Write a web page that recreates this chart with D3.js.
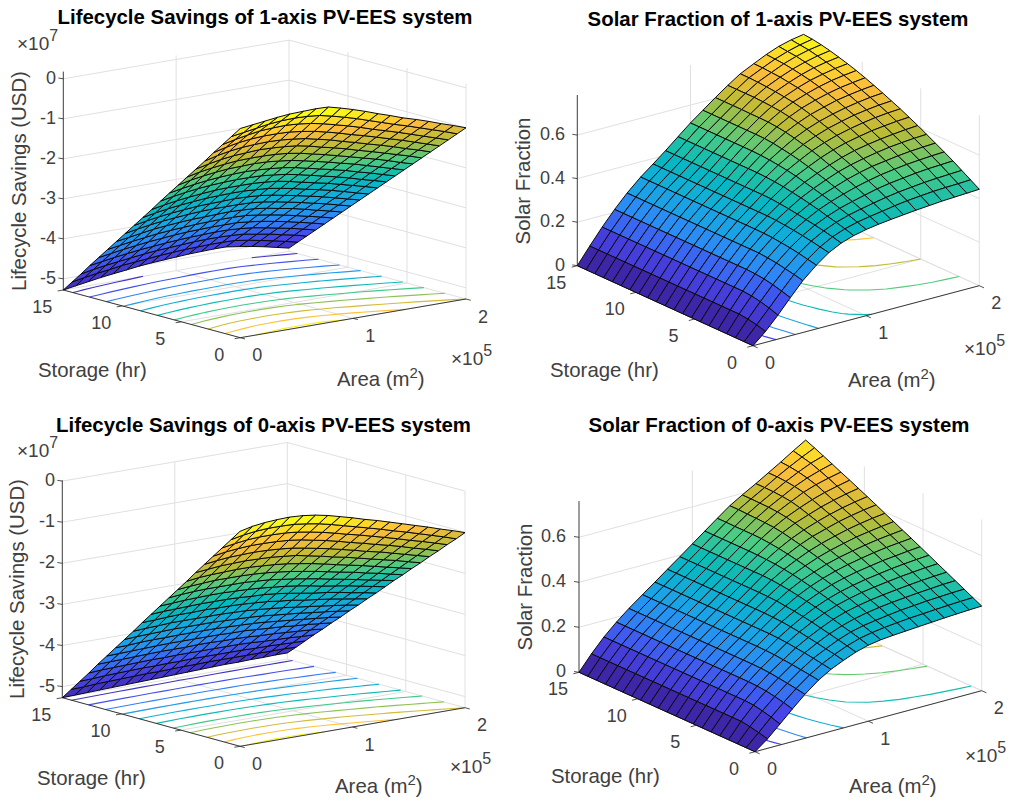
<!DOCTYPE html>
<html>
<head>
<meta charset="utf-8">
<script src="https://cdn.jsdelivr.net/npm/d3@7"></script>
<style>
html, body { margin: 0; padding: 0; background: #fff; }
svg { display: block; }
text { font-family: "Liberation Sans", Arial, sans-serif; }
</style>
</head>
<body>
<div id="chart"></div>
<script>
// area in 1e5 m2, storage in hr
var storage = [0,.75,1.5,2.25,3,3.75,4.5,5.25,6,6.75,7.5,8.25,9,9.75,10.5,11.25,12,12.75,13.5,14.25,15];
var area = [0,.11,.22,.33,.44,.56,.67,.78,.89,1,1.11,1.22,1.33,1.44,1.56,1.67,1.78,1.89,2];

var areaTicks = [0,1,2];
var storageTicks = [0,5,10,15];
var lcsTicks = [0,-1,-2,-3,-4,-5];
var sfTicks = [0,.2,.4,.6];
var lcsLevels = [-5,-4.5,-4,-3.5,-3,-2.5,-2,-1.5,-1,-.5,0];
var sfLevels = [.1,.2,.3,.4,.5,.6,.7];

// lifecycle savings (1e7 USD), one row per storage value
var lcs1Axis = [
[-.05,-.01,.03,.07,.10,.11,.12,.11,.03,-.06,-.16,-.27,-.37,-.48,-.58,-.68,-.79,-.89,-1.00],
[-.31,-.26,-.21,-.16,-.13,-.12,-.13,-.16,-.23,-.31,-.40,-.50,-.60,-.70,-.80,-.90,-1.00,-1.10,-1.21],
[-.57,-.50,-.44,-.39,-.37,-.36,-.38,-.42,-.48,-.56,-.64,-.73,-.83,-.92,-1.02,-1.12,-1.22,-1.32,-1.42],
[-.83,-.75,-.69,-.65,-.63,-.63,-.64,-.68,-.73,-.80,-.88,-.97,-1.05,-1.14,-1.24,-1.33,-1.43,-1.53,-1.63],
[-1.10,-1.02,-.96,-.92,-.90,-.89,-.90,-.93,-.97,-1.04,-1.11,-1.20,-1.28,-1.37,-1.46,-1.55,-1.65,-1.74,-1.84],
[-1.36,-1.29,-1.23,-1.19,-1.17,-1.15,-1.16,-1.18,-1.21,-1.27,-1.35,-1.42,-1.50,-1.59,-1.68,-1.77,-1.86,-1.95,-2.05],
[-1.62,-1.55,-1.50,-1.46,-1.43,-1.42,-1.42,-1.43,-1.46,-1.51,-1.58,-1.65,-1.73,-1.81,-1.90,-1.98,-2.07,-2.17,-2.26],
[-1.88,-1.81,-1.76,-1.72,-1.69,-1.68,-1.67,-1.68,-1.71,-1.75,-1.81,-1.88,-1.95,-2.03,-2.11,-2.20,-2.29,-2.38,-2.47],
[-2.14,-2.08,-2.03,-1.99,-1.96,-1.94,-1.93,-1.94,-1.96,-1.99,-2.04,-2.11,-2.18,-2.25,-2.33,-2.42,-2.50,-2.59,-2.68],
[-2.40,-2.34,-2.29,-2.25,-2.22,-2.20,-2.19,-2.19,-2.20,-2.23,-2.27,-2.33,-2.40,-2.47,-2.55,-2.63,-2.72,-2.80,-2.89],
[-2.67,-2.61,-2.56,-2.52,-2.49,-2.46,-2.45,-2.45,-2.45,-2.47,-2.50,-2.56,-2.63,-2.70,-2.77,-2.85,-2.93,-3.01,-3.10],
[-2.93,-2.87,-2.82,-2.78,-2.75,-2.72,-2.71,-2.70,-2.70,-2.72,-2.74,-2.79,-2.85,-2.92,-2.99,-3.06,-3.14,-3.23,-3.31],
[-3.19,-3.13,-3.08,-3.04,-3.01,-2.98,-2.97,-2.96,-2.95,-2.96,-2.98,-3.02,-3.08,-3.14,-3.21,-3.28,-3.36,-3.44,-3.52],
[-3.45,-3.39,-3.34,-3.30,-3.27,-3.24,-3.22,-3.21,-3.21,-3.21,-3.22,-3.25,-3.30,-3.36,-3.43,-3.50,-3.57,-3.65,-3.73],
[-3.71,-3.66,-3.61,-3.56,-3.53,-3.50,-3.48,-3.47,-3.46,-3.45,-3.46,-3.48,-3.52,-3.58,-3.64,-3.71,-3.79,-3.86,-3.94],
[-3.97,-3.92,-3.87,-3.83,-3.79,-3.76,-3.74,-3.72,-3.71,-3.70,-3.70,-3.71,-3.75,-3.80,-3.86,-3.93,-4.00,-4.07,-4.15],
[-4.23,-4.18,-4.13,-4.09,-4.05,-4.02,-3.99,-3.97,-3.96,-3.95,-3.95,-3.95,-3.98,-4.02,-4.08,-4.14,-4.21,-4.28,-4.36],
[-4.49,-4.44,-4.39,-4.35,-4.31,-4.28,-4.25,-4.23,-4.21,-4.20,-4.19,-4.19,-4.21,-4.24,-4.30,-4.36,-4.42,-4.49,-4.57],
[-4.76,-4.70,-4.65,-4.61,-4.57,-4.53,-4.50,-4.48,-4.46,-4.44,-4.43,-4.43,-4.44,-4.46,-4.52,-4.57,-4.64,-4.70,-4.78],
[-5.02,-4.96,-4.91,-4.87,-4.82,-4.79,-4.76,-4.73,-4.71,-4.69,-4.68,-4.67,-4.67,-4.68,-4.73,-4.79,-4.85,-4.92,-4.99],
[-5.28,-5.23,-5.18,-5.13,-5.09,-5.05,-5.01,-4.98,-4.96,-4.94,-4.92,-4.91,-4.90,-4.90,-4.95,-5.00,-5.06,-5.13,-5.20]
];

var lcs0Axis = [
[-.04,.03,.07,.09,.10,.08,.04,-.02,-.10,-.18,-.27,-.35,-.44,-.53,-.63,-.72,-.82,-.91,-1.01],
[-.30,-.24,-.20,-.18,-.18,-.19,-.23,-.28,-.35,-.43,-.51,-.59,-.67,-.76,-.85,-.94,-1.03,-1.12,-1.22],
[-.56,-.51,-.47,-.45,-.45,-.46,-.49,-.54,-.60,-.67,-.75,-.82,-.90,-.98,-1.07,-1.16,-1.24,-1.33,-1.42],
[-.82,-.77,-.74,-.72,-.72,-.73,-.75,-.79,-.85,-.91,-.98,-1.06,-1.13,-1.21,-1.29,-1.37,-1.46,-1.54,-1.63],
[-1.08,-1.04,-1.01,-1.00,-.99,-1.00,-1.02,-1.05,-1.10,-1.16,-1.22,-1.29,-1.36,-1.44,-1.51,-1.59,-1.67,-1.75,-1.83],
[-1.34,-1.31,-1.28,-1.27,-1.26,-1.27,-1.28,-1.31,-1.34,-1.40,-1.46,-1.53,-1.59,-1.66,-1.74,-1.81,-1.88,-1.96,-2.04],
[-1.61,-1.57,-1.55,-1.54,-1.53,-1.53,-1.55,-1.57,-1.60,-1.65,-1.70,-1.76,-1.83,-1.89,-1.96,-2.03,-2.10,-2.17,-2.24],
[-1.87,-1.84,-1.82,-1.80,-1.80,-1.80,-1.81,-1.83,-1.86,-1.90,-1.95,-2.00,-2.06,-2.12,-2.18,-2.25,-2.31,-2.38,-2.45],
[-2.13,-2.10,-2.08,-2.07,-2.07,-2.07,-2.07,-2.09,-2.11,-2.15,-2.19,-2.24,-2.29,-2.35,-2.41,-2.47,-2.53,-2.59,-2.65],
[-2.39,-2.37,-2.35,-2.34,-2.33,-2.33,-2.34,-2.35,-2.37,-2.40,-2.43,-2.47,-2.52,-2.58,-2.63,-2.68,-2.74,-2.80,-2.86],
[-2.65,-2.63,-2.62,-2.61,-2.60,-2.60,-2.60,-2.61,-2.63,-2.64,-2.67,-2.71,-2.76,-2.81,-2.85,-2.90,-2.96,-3.01,-3.07],
[-2.91,-2.90,-2.88,-2.87,-2.87,-2.86,-2.87,-2.87,-2.88,-2.90,-2.92,-2.96,-2.99,-3.04,-3.08,-3.12,-3.17,-3.22,-3.27],
[-3.18,-3.16,-3.15,-3.13,-3.13,-3.13,-3.13,-3.13,-3.14,-3.15,-3.17,-3.20,-3.23,-3.27,-3.31,-3.35,-3.39,-3.43,-3.48],
[-3.44,-3.42,-3.41,-3.40,-3.39,-3.39,-3.39,-3.39,-3.40,-3.41,-3.42,-3.44,-3.47,-3.50,-3.53,-3.57,-3.60,-3.64,-3.68],
[-3.70,-3.69,-3.67,-3.66,-3.66,-3.65,-3.65,-3.65,-3.65,-3.66,-3.67,-3.68,-3.70,-3.73,-3.76,-3.79,-3.82,-3.85,-3.89],
[-3.96,-3.95,-3.94,-3.93,-3.92,-3.91,-3.91,-3.91,-3.91,-3.91,-3.92,-3.92,-3.94,-3.96,-3.98,-4.01,-4.03,-4.06,-4.09],
[-4.22,-4.21,-4.20,-4.19,-4.18,-4.17,-4.17,-4.17,-4.16,-4.16,-4.17,-4.17,-4.18,-4.20,-4.21,-4.23,-4.25,-4.27,-4.30],
[-4.49,-4.47,-4.46,-4.45,-4.44,-4.43,-4.43,-4.42,-4.42,-4.42,-4.42,-4.42,-4.42,-4.43,-4.45,-4.46,-4.47,-4.49,-4.50],
[-4.75,-4.74,-4.72,-4.71,-4.70,-4.69,-4.69,-4.68,-4.68,-4.67,-4.67,-4.67,-4.67,-4.67,-4.68,-4.68,-4.69,-4.70,-4.71],
[-5.01,-5.00,-4.98,-4.97,-4.96,-4.95,-4.94,-4.94,-4.93,-4.92,-4.92,-4.91,-4.91,-4.91,-4.91,-4.91,-4.91,-4.91,-4.92],
[-5.27,-5.26,-5.25,-5.24,-5.23,-5.22,-5.21,-5.20,-5.19,-5.18,-5.17,-5.16,-5.15,-5.14,-5.14,-5.13,-5.13,-5.12,-5.12]
];

// solar fraction, one row per area value (transposed below)
var sf1ByArea = [
[0,0,0,0,0,0,0,0,0,0,0,0,0,0,0,0,0,0,0,0,0],
[.05,.062,.07,.075,.075,.075,.075,.075,.075,.075,.075,.075,.075,.075,.075,.075,.075,.075,.075,.075,.075],
[.11,.124,.135,.143,.147,.147,.147,.147,.147,.147,.147,.147,.147,.147,.147,.147,.147,.147,.147,.147,.147],
[.175,.187,.198,.206,.211,.213,.213,.213,.213,.213,.213,.213,.213,.213,.213,.213,.213,.213,.213,.213,.213],
[.238,.248,.256,.264,.269,.273,.273,.273,.273,.273,.273,.273,.273,.273,.273,.273,.273,.273,.273,.273,.273],
[.293,.301,.31,.317,.322,.327,.329,.33,.33,.33,.33,.33,.33,.33,.33,.33,.33,.33,.33,.33,.33],
[.335,.343,.351,.358,.364,.369,.373,.375,.375,.375,.375,.375,.375,.375,.375,.375,.375,.375,.375,.375,.375],
[.364,.374,.383,.391,.398,.405,.411,.416,.42,.421,.421,.421,.421,.421,.421,.421,.421,.421,.421,.421,.421],
[.383,.396,.407,.417,.428,.437,.446,.453,.46,.465,.468,.47,.47,.47,.47,.47,.47,.47,.47,.47,.47],
[.396,.411,.425,.438,.451,.463,.474,.484,.494,.502,.508,.513,.516,.518,.518,.518,.518,.518,.518,.518,.518],
[.405,.422,.438,.454,.47,.484,.498,.51,.522,.533,.542,.549,.556,.56,.561,.561,.561,.561,.561,.561,.561],
[.412,.431,.45,.468,.487,.504,.52,.533,.548,.562,.572,.583,.592,.598,.602,.603,.603,.604,.604,.604,.604],
[.418,.441,.461,.482,.501,.52,.537,.553,.569,.584,.596,.609,.62,.629,.636,.64,.643,.645,.645,.645,.645],
[.424,.449,.47,.492,.513,.533,.55,.569,.586,.602,.616,.63,.643,.654,.663,.669,.674,.678,.681,.683,.683],
[.429,.455,.477,.5,.522,.542,.562,.581,.599,.617,.632,.647,.661,.674,.685,.694,.7,.706,.709,.712,.713],
[.434,.46,.483,.507,.529,.55,.571,.59,.61,.628,.645,.66,.676,.689,.702,.713,.721,.728,.734,.737,.74],
[.437,.463,.487,.512,.534,.556,.577,.597,.617,.637,.654,.67,.686,.701,.715,.726,.737,.745,.753,.757,.762],
[.44,.465,.49,.515,.538,.56,.582,.603,.623,.643,.661,.678,.694,.709,.724,.737,.748,.758,.767,.772,.777],
[.443,.468,.493,.518,.541,.563,.585,.607,.627,.647,.665,.683,.7,.716,.731,.744,.756,.767,.776,.783,.787]
];

var sf0ByArea = [
[0,0,0,0,0,0,0,0,0,0,0,0,0,0,0,0,0,0,0,0,0],
[.042,.052,.061,.067,.067,.067,.067,.067,.067,.067,.067,.067,.067,.067,.067,.067,.067,.067,.067,.067,.067],
[.093,.106,.116,.124,.127,.127,.127,.127,.127,.127,.127,.127,.127,.127,.127,.127,.127,.127,.127,.127,.127],
[.145,.156,.165,.172,.176,.178,.178,.178,.178,.178,.178,.178,.178,.178,.178,.178,.178,.178,.178,.178,.178],
[.195,.203,.209,.215,.22,.223,.224,.224,.224,.224,.224,.224,.224,.224,.224,.224,.224,.224,.224,.224,.224],
[.242,.248,.253,.258,.262,.266,.268,.269,.269,.269,.269,.269,.269,.269,.269,.269,.269,.269,.269,.269,.269],
[.275,.282,.289,.295,.3,.305,.308,.31,.31,.31,.31,.31,.31,.31,.31,.31,.31,.31,.31,.31,.31],
[.3,.309,.316,.324,.331,.338,.343,.348,.35,.352,.352,.352,.352,.352,.352,.352,.352,.352,.352,.352,.352],
[.322,.332,.341,.35,.358,.367,.374,.38,.385,.39,.392,.393,.393,.393,.393,.393,.393,.393,.393,.393,.393],
[.338,.35,.361,.371,.382,.392,.401,.409,.417,.424,.429,.433,.435,.435,.435,.435,.435,.435,.435,.435,.435],
[.347,.361,.374,.387,.4,.412,.423,.433,.443,.452,.46,.466,.471,.474,.476,.477,.477,.477,.477,.477,.477],
[.352,.369,.383,.399,.413,.427,.44,.453,.464,.474,.484,.493,.501,.508,.513,.517,.518,.518,.518,.519,.519],
[.356,.375,.391,.408,.423,.439,.453,.468,.481,.494,.506,.517,.528,.537,.546,.552,.555,.557,.558,.56,.56],
[.36,.38,.398,.415,.431,.448,.464,.48,.495,.509,.523,.536,.55,.561,.573,.582,.588,.591,.592,.593,.593],
[.364,.384,.403,.421,.438,.456,.473,.49,.507,.522,.538,.553,.568,.582,.595,.608,.618,.623,.626,.627,.627],
[.368,.388,.408,.426,.444,.463,.481,.499,.517,.533,.551,.567,.584,.599,.614,.629,.644,.652,.657,.66,.66],
[.371,.391,.411,.43,.449,.468,.487,.505,.525,.542,.56,.578,.596,.613,.629,.646,.663,.675,.684,.69,.693],
[.374,.394,.414,.434,.453,.473,.492,.511,.531,.549,.568,.587,.606,.624,.642,.659,.677,.693,.708,.718,.728],
[.376,.396,.416,.436,.456,.476,.496,.516,.536,.555,.575,.594,.614,.633,.652,.671,.689,.708,.726,.744,.761]
];

var parula = ["#3e26a8","#4746eb","#2e87f7","#16a9e1","#07b9bc","#4acb84","#bbbc36","#fdbd3c","#f9fb15"];

var panels = [
  {title: "Lifecycle Savings of 1-axis PV-EES system", titleX: 265, titleY: 24,
   z: lcs1Axis, levels: lcsLevels, zTicks: lcsTicks, zLabel: "Lifecycle Savings (USD)",
   zMin: -5.28, zTop: .1, zAxisTop: .18, backTop: 0, zPx: 40,
   front: [240.3,337.7], left: [63.3,290], right: [466,299],
   zTickX: 56, zLabelX: 26, zLabelY: 181, storageX: 38, storageY: 377, areaX: 337, areaY: 386,
   xExpX: 451, xExpY: 365, zExpX: 17, zExpY: 50},
  {title: "Solar Fraction of 1-axis PV-EES system", titleX: 778, titleY: 26,
   z: d3.transpose(sf1ByArea), levels: sfLevels, zTicks: sfTicks, zLabel: "Solar Fraction",
   zMin: 0, zTop: .784, zAxisTop: .784, backTop: .784, zPx: 217.7,
   front: [753,345.7], left: [577.3,265.7], right: [979.3,285.7],
   zTickX: 565, zLabelX: 530, zLabelY: 181, storageX: 550, storageY: 377, areaX: 848, areaY: 387,
   xExpX: 964, xExpY: 355},
  {title: "Lifecycle Savings of 0-axis PV-EES system", titleX: 263.5, titleY: 431.7,
   z: lcs0Axis, levels: lcsLevels, zTicks: lcsTicks, zLabel: "Lifecycle Savings (USD)",
   zMin: -5.27, zTop: 0, zAxisTop: .02, backTop: 0, zPx: 41.1,
   front: [240,746.3], left: [62.3,697.7], right: [465,707.7],
   zTickX: 55, zLabelX: 24, zLabelY: 589, storageX: 37, storageY: 785, areaX: 335, areaY: 793,
   xExpX: 450, xExpY: 773, zExpX: 17, zExpY: 457},
  {title: "Solar Fraction of 0-axis PV-EES system", titleX: 779, titleY: 431.7,
   z: d3.transpose(sf0ByArea), levels: sfLevels, zTicks: sfTicks, zLabel: "Solar Fraction",
   zMin: 0, zTop: .761, zAxisTop: .761, backTop: .761, zPx: 225,
   front: [755,751.7], left: [579,672.3], right: [981.7,690.7],
   zTickX: 566, zLabelX: 531.5, zLabelY: 587, storageX: 551, storageY: 783, areaX: 849, areaY: 793,
   xExpX: 965, xExpY: 762}
];

var width = 1011, height = 803;
var svg = d3.select("#chart").append("svg").attr("width", width).attr("height", height);

var axisColor = "#262626", tickColor = "#404040", gridColor = "#e0e0e0";
var tickSize = 18, labelSize = 20.4, titleSize = 20.4;

panels.forEach(function(p) {
  var g = svg.append("g");

  // three axes on the screen, summed to get a projected point
  var xA = d3.scaleLinear().domain([0,2]).range([0, p.right[0]-p.front[0]]);
  var yA = d3.scaleLinear().domain([0,2]).range([0, p.right[1]-p.front[1]]);
  var xS = d3.scaleLinear().domain([0,15]).range([0, p.left[0]-p.front[0]]);
  var yS = d3.scaleLinear().domain([0,15]).range([0, p.left[1]-p.front[1]]);
  var yZ = d3.scaleLinear().domain([p.zMin, p.zMin + 1]).range([0, -p.zPx]);

  var project = function(a, s, z) {
    return [p.front[0] + xA(a) + xS(s), p.front[1] + yA(a) + yS(s) + yZ(z)];
  };
  var seg = function(a, b, color, w) {
    g.append("line").attr("x1", a[0]).attr("y1", a[1]).attr("x2", b[0]).attr("y2", b[1])
      .attr("stroke", color).attr("stroke-width", w);
  };

  // grid on the two walls and on the floor
  p.zTicks.forEach(function(t) {
    seg(project(0,15,t), project(2,15,t), gridColor, 1);
    seg(project(2,15,t), project(2,0,t), gridColor, 1);
  });
  areaTicks.forEach(function(t) {
    seg(project(t,0,p.zMin), project(t,15,p.zMin), gridColor, 1);
    if (t > 0) seg(project(t,15,p.zMin), project(t,15,t == 2 ? p.backTop : p.zTop), gridColor, 1);
  });
  storageTicks.forEach(function(t) {
    seg(project(0,t,p.zMin), project(2,t,p.zMin), gridColor, 1);
    if (t < 15) seg(project(2,t,p.zMin), project(2,t,p.zTop), gridColor, 1);
  });

  var zs = d3.merge(p.z);
  var zLo = d3.min(zs), zHi = d3.max(zs);
  var color = d3.scaleLinear()
    .domain(parula.map(function(c, i) { return zLo + (zHi - zLo) * i / (parula.length - 1); }))
    .range(parula).clamp(true);

  // contour lines on the floor
  var nA = area.length, nS = storage.length;
  var idxA = d3.scaleLinear().domain(d3.range(nA)).range(area);
  var idxS = d3.scaleLinear().domain(d3.range(nS)).range(storage);
  var line = d3.line().defined(function(d) { return d !== null; });
  p.levels.forEach(function(level) {
    var shape = d3.contours().size([nA, nS]).thresholds([level])(zs)[0];
    shape.coordinates.forEach(function(poly) {
      poly.forEach(function(ring) {
        var pts = ring.map(function(c) {
          var inside = c[0] >= .5 && c[0] <= nA - .5 && c[1] >= .5 && c[1] <= nS - .5;
          return inside ? project(idxA(c[0] - .5), idxS(c[1] - .5), p.zMin) : null;
        });
        g.append("path").attr("d", line(pts)).attr("fill", "none")
          .attr("stroke", color(level)).attr("stroke-width", 1.1);
      });
    });
  });

  // axis lines and ticks
  seg(project(0,15,p.zMin), project(0,0,p.zMin), axisColor, .9);
  seg(project(0,0,p.zMin), project(2,0,p.zMin), axisColor, .9);
  seg(project(0,15,p.zMin), project(0,15,p.zAxisTop), axisColor, .9);
  storageTicks.forEach(function(t) {
    var a = project(0,t,p.zMin);
    seg(a, project(-.05,t,p.zMin), axisColor, .8);
    g.append("text").attr("x", a[0] - 21).attr("y", a[1] + 23).attr("text-anchor", "middle")
      .attr("font-size", tickSize).attr("fill", tickColor).text(t);
  });
  areaTicks.forEach(function(t) {
    var a = project(t,0,p.zMin);
    seg(a, project(t,-.4,p.zMin), axisColor, .8);
    g.append("text").attr("x", a[0] + 17).attr("y", a[1] + 23.5).attr("text-anchor", "middle")
      .attr("font-size", tickSize).attr("fill", tickColor).text(t);
  });
  p.zTicks.forEach(function(t) {
    var a = project(0,15,t);
    seg(a, [a[0] - 5, a[1] - .8], axisColor, .8);
    g.append("text").attr("x", p.zTickX).attr("y", a[1] + 5).attr("text-anchor", "end")
      .attr("font-size", tickSize).attr("fill", tickColor).text(String(t));
  });

  // surface, back to front
  for (var j = nS - 2; j >= 0; j--) {
    for (var i = nA - 2; i >= 0; i--) {
      var quad = [
        project(area[i], storage[j], p.z[j][i]),
        project(area[i+1], storage[j], p.z[j][i+1]),
        project(area[i+1], storage[j+1], p.z[j+1][i+1]),
        project(area[i], storage[j+1], p.z[j+1][i])
      ];
      g.append("polygon").attr("points", quad.join(" "))
        .attr("fill", color(p.z[j][i]))
        .attr("stroke", "#0a0a0a").attr("stroke-width", 1).attr("stroke-linejoin", "round");
    }
  }

  // texts
  g.append("text").attr("x", p.titleX).attr("y", p.titleY).attr("text-anchor", "middle")
    .attr("font-size", titleSize).attr("font-weight", "bold").attr("fill", "#000").text(p.title);
  g.append("text").attr("transform", "translate(" + p.zLabelX + "," + p.zLabelY + ") rotate(-90)")
    .attr("text-anchor", "middle").attr("font-size", labelSize).attr("fill", tickColor).text(p.zLabel);
  g.append("text").attr("x", p.storageX).attr("y", p.storageY)
    .attr("font-size", labelSize).attr("fill", tickColor).text("Storage (hr)");

  var areaText = g.append("text").attr("x", p.areaX).attr("y", p.areaY)
    .attr("font-size", labelSize).attr("fill", tickColor);
  areaText.append("tspan").text("Area (m");
  areaText.append("tspan").attr("dy", -8).attr("font-size", 15).text("2");
  areaText.append("tspan").attr("dy", 8).text(")");

  var expo = function(x, y, power) {
    var t = g.append("text").attr("x", x).attr("y", y).attr("font-size", 19).attr("fill", tickColor);
    t.append("tspan").text("\u00d710");
    t.append("tspan").attr("dy", -9).attr("font-size", 16).text(power);
  };
  expo(p.xExpX, p.xExpY, "5");
  if (p.zExpX) expo(p.zExpX, p.zExpY, "7");
});
</script>
</body>
</html>
